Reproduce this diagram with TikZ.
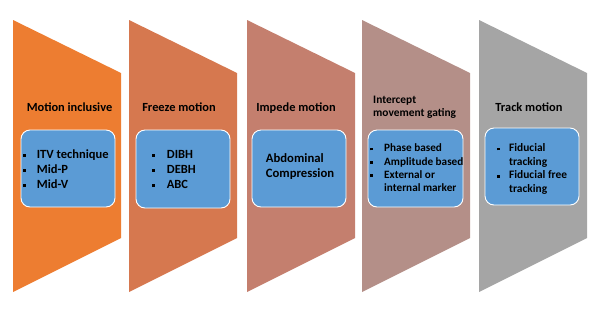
\documentclass[tikz,border=0pt]{standalone}
\usepackage{fontspec}
\setmainfont{Carlito}
\definecolor{panA}{HTML}{ED7D31}
\definecolor{panB}{HTML}{D6784F}
\definecolor{panC}{HTML}{C47F6E}
\definecolor{panD}{HTML}{B48F88}
\definecolor{panE}{HTML}{A5A5A5}
\definecolor{cardblue}{HTML}{5B9BD5}
\newcommand{\sqb}{\rule[0.25ex]{2.8pt}{2.8pt}}

\begin{document}
\begin{tikzpicture}[x=1pt, y=-1pt,
  card/.style={draw=white, line width=0.9pt, fill=cardblue, rounded corners=9pt,
               minimum width=94pt, minimum height=77pt, inner sep=0pt},
  head/.style={font=\bfseries\fontsize{12.4}{13}\selectfont, inner sep=0pt, anchor=base},
  items/.style={font=\bfseries\fontsize{12.5}{15.2}\selectfont, inner sep=0pt, anchor=base west},
]
\useasboundingbox (0,0) rectangle (601,309);
\foreach \x/\c in {13/panA, 129/panB, 247/panC, 362/panD, 479/panE}
  \fill[\c] (\x,20) -- (\x+108,73) -- (\x+108,238) -- (\x,292) -- cycle;

\node[head] (inclusive) at (69.5,111) {Motion inclusive};
\node[head] (freeze) at (179,111) {Freeze motion};
\node[head] (impede) at (296,111) {Impede motion};
\node[head, anchor=base west, font=\bfseries\fontsize{11.4}{13}\selectfont]
  (intercept) at (373,103) {\begin{tabular}[t]{@{}l@{}}Intercept\\movement gating\end{tabular}};
\node[head] (track) at (529,111) {Track motion};

\node[card] (cardA) at (68,168.5) {};
\node[card, minimum height=78pt] (cardB) at (183,169) {};
\node[card] (cardC) at (299,168.5) {};
\node[card, minimum width=95pt] (cardD) at (415.5,168.5) {};
\node[card] (cardE) at (532,166.5) {};

\node[items] (listA) at (22.7,158.3) {\begin{tabular}[t]{@{}l@{\hspace{11.2pt}}l@{}}
  \sqb & ITV technique\\ \sqb & Mid-P\\ \sqb & Mid-V\end{tabular}};
\node[items] (listB) at (151.7,158.3) {\begin{tabular}[t]{@{}l@{\hspace{12.2pt}}l@{}}
  \sqb & DIBH\\ \sqb & DEBH\\ \sqb & ABC\end{tabular}};
\node[items, font=\bfseries\fontsize{12.7}{14.7}\selectfont] (listC) at (265.7,162.7)
  {\begin{tabular}[t]{@{}l@{}}Abdominal\\Compression\end{tabular}};
\node[items, font=\bfseries\fontsize{11.2}{13.3}\selectfont] (listD) at (370,151.7) {\begin{tabular}[t]{@{}l@{\hspace{11.2pt}}l@{}}
  \sqb & Phase based\\ \sqb & Amplitude based\\ \sqb & External or\\ & internal marker\end{tabular}};
\node[items, font=\bfseries\fontsize{11.4}{13.6}\selectfont] (listE) at (496.7,151.7) {\begin{tabular}[t]{@{}l@{\hspace{9.5pt}}l@{}}
  \sqb & Fiducial\\ & tracking\\ \sqb & Fiducial free\\ & tracking\end{tabular}};
\end{tikzpicture}
\end{document}
